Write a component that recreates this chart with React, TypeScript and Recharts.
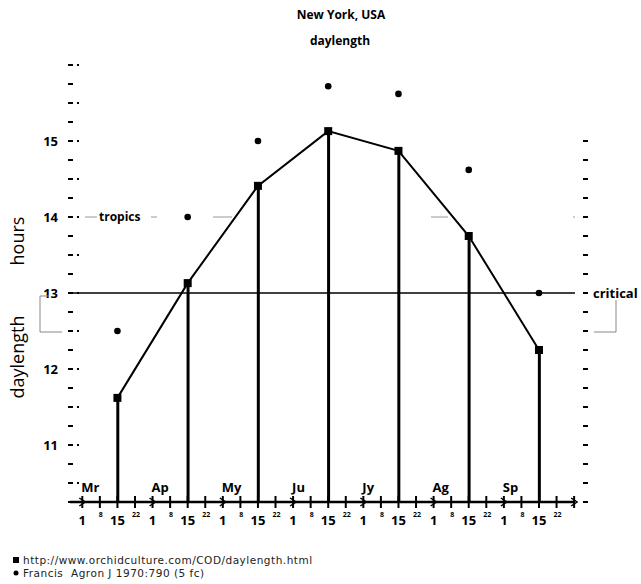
import React from "react";
import { ComposedChart, Line, Bar, XAxis, YAxis, ReferenceLine } from "recharts";

// months shown above the axis, one per "1" tick
const months = ["Mr", "Ap", "My", "Ju", "Jy", "Ag", "Sp"];
// day labels repeated every month
const dayLabels = ["1", "8", "15", "22"];
// quarter-month position of the 15th of each month (0 = Mar 1)
const midMonthPos = [2, 6, 10, 14, 18, 22, 26];
// orchidculture.com daylength (hours), 15th of each month
const orchidHours = [11.62, 13.13, 14.41, 15.13, 14.87, 13.75, 12.25];
// Francis, Agron J 1970 daylength (hours)
const francisHours = [12.5, 14.0, 15.0, 15.72, 15.62, 14.62, 13.0];

const xTicks = Array.from({ length: 29 }, (_, i) => i);
const leftTicks = Array.from({ length: 24 }, (_, i) => 10.25 + i * 0.25);
const rightTicks = Array.from({ length: 20 }, (_, i) => 10.25 + i * 0.25);

const data = midMonthPos.map((pos, i) => ({
  pos,
  orchid: orchidHours[i],
  francis: francisHours[i],
}));

const FONT = "'Open Sans', sans-serif";

function LeftTick(props: any) {
  const { x, y, payload } = props;
  const v = payload.value as number;
  const isInt = Math.abs(v - Math.round(v)) < 1e-6;
  const isHalf = Math.abs(v * 2 - Math.round(v * 2)) < 1e-6;
  return (
    <g>
      <line x1={x - 2} x2={x + 3} y1={y} y2={y} stroke="#000" strokeWidth={2} />
      {isHalf && <rect x={x + 7} y={y - 1} width={2} height={2} fill="#000" />}
      {isInt && v >= 11 && v <= 15 && (
        <text x={x - 12} y={y + 5} textAnchor="end" fontFamily={FONT} fontWeight="bold" fontSize={13} fill="#000">
          {v}
        </text>
      )}
    </g>
  );
}

function RightTick(props: any) {
  const { x, y } = props;
  return <line x1={x + 8} x2={x + 13} y1={y} y2={y} stroke="#000" strokeWidth={2} />;
}

function BottomTick(props: any) {
  const { x, y, payload } = props;
  const i = payload.value as number;
  const k = i % 4;
  const big = k === 0 || k === 2;
  return (
    <g>
      <line x1={x} x2={x} y1={y - 6} y2={y + 6} stroke="#000" strokeWidth={2} />
      {k === 0 && (
        <path d={`M${x - 3},${y - 4} L${x + 3},${y} L${x - 3},${y + 4}`} fill="none" stroke="#000" strokeWidth={1.5} />
      )}
      {i < 28 &&
        (big ? (
          <text x={x} y={y + 23} textAnchor="middle" fontFamily={FONT} fontWeight="bold" fontSize={13} fill="#000">
            {dayLabels[k]}
          </text>
        ) : (
          <text x={x + 1} y={y + 15} textAnchor="middle" fontFamily={FONT} fontWeight="bold" fontSize={7} fill="#000">
            {dayLabels[k]}
          </text>
        ))}
      {k === 0 && i < 28 && (
        <text x={x - 1} y={y - 10} textAnchor="start" fontFamily={FONT} fontWeight="bold" fontSize={13} fill="#000">
          {months[i / 4]}
        </text>
      )}
    </g>
  );
}

function SquareDot(props: any) {
  const { cx, cy } = props;
  if (cx == null || cy == null) return null;
  return <rect x={cx - 4} y={cy - 4} width={8} height={8} fill="#000" />;
}

function RoundDot(props: any) {
  const { cx, cy } = props;
  if (cx == null || cy == null) return null;
  return <circle cx={cx} cy={cy} r={3.3} fill="#000" />;
}

const criticalLabel = (props: any) => {
  const vb = props.viewBox;
  return (
    <text x={vb.x + vb.width + 18} y={vb.y + 5} fontFamily={FONT} fontWeight="bold" fontSize={13} fill="#000">
      critical
    </text>
  );
};

const tropicsLabel = (props: any) => {
  const vb = props.viewBox;
  return (
    <text x={vb.x + 29} y={vb.y + 4} fontFamily={FONT} fontWeight="bold" fontSize={12} fill="#000">
      tropics
    </text>
  );
};

export default function App() {
  return (
    <div style={{ position: "absolute", left: 0, top: 0, width: 641, height: 584, background: "#fff" }}>
      <ComposedChart width={641} height={584} data={data} margin={{ top: 65, right: 36, bottom: 52, left: 0 }}>
        <XAxis
          dataKey="pos"
          type="number"
          domain={[-0.7, 28.05]}
          ticks={xTicks}
          interval={0}
          tick={<BottomTick />}
          tickLine={false}
          tickSize={0}
          tickMargin={0}
          height={30}
          axisLine={{ stroke: "#000", strokeWidth: 2.5 }}
          allowDataOverflow
        />
        <YAxis
          yAxisId="l"
          domain={[10.25, 16]}
          ticks={leftTicks}
          interval={0}
          tick={<LeftTick />}
          tickLine={false}
          tickSize={0}
          tickMargin={0}
          axisLine={false}
          width={70}
          allowDataOverflow
        />
        <YAxis
          yAxisId="r"
          orientation="right"
          domain={[10.25, 16]}
          ticks={rightTicks}
          interval={0}
          tick={<RightTick />}
          tickLine={false}
          tickSize={0}
          tickMargin={0}
          axisLine={false}
          width={30}
          allowDataOverflow
        />
        <ReferenceLine
          yAxisId="l"
          y={14}
          stroke="#999"
          strokeWidth={1.2}
          strokeDasharray="0 15 12 54 6 56 19 199 17 125 4"
          label={tropicsLabel}
        />
        <ReferenceLine yAxisId="l" y={13} stroke="#000" strokeWidth={1.5} label={criticalLabel} />
        <Bar yAxisId="l" dataKey="orchid" barSize={3} fill="#000" isAnimationActive={false} />
        <Line
          yAxisId="l"
          dataKey="orchid"
          type="linear"
          stroke="#000"
          strokeWidth={2}
          dot={<SquareDot />}
          activeDot={false}
          isAnimationActive={false}
        />
        <Line
          yAxisId="l"
          dataKey="francis"
          stroke="none"
          dot={<RoundDot />}
          activeDot={false}
          isAnimationActive={false}
        />
      </ComposedChart>
      <svg width={641} height={584} style={{ position: "absolute", left: 0, top: 0, pointerEvents: "none" }}>
        <text x={341} y={19} textAnchor="middle" fontFamily={FONT} fontWeight="bold" fontSize={12} fill="#000">
          New York, USA
        </text>
        <text x={340} y={45} textAnchor="middle" fontFamily={FONT} fontWeight="bold" fontSize={12} fill="#000">
          daylength
        </text>
        <text x={17} y={241} transform="rotate(-90 17 241)" textAnchor="middle" dominantBaseline="central" fontFamily={FONT} fontSize={18} fill="#000">
          hours
        </text>
        <text x={17} y={357} transform="rotate(-90 17 357)" textAnchor="middle" dominantBaseline="central" fontFamily={FONT} fontSize={18} fill="#000">
          daylength
        </text>
        <polyline points="49,296 40,296 40,332 62,332" fill="none" stroke="#888" strokeWidth={1} />
        <polyline points="616,300 616,332 594,332" fill="none" stroke="#888" strokeWidth={1} />
        <rect x={13} y={557} width={6} height={6} fill="#000" />
        <text x={23} y={564} fontFamily="'DejaVu Sans', sans-serif" fontSize={10.5} letterSpacing={0.5} fill="#222">
          http://www.orchidculture.com/COD/daylength.html
        </text>
        <circle cx={16} cy={573} r={2.5} fill="#000" />
        <text x={23} y={577} fontFamily="'DejaVu Sans', sans-serif" fontSize={10.5} letterSpacing={0.5} fill="#222" style={{ whiteSpace: "pre" }}>
          {"Francis  Agron J 1970:790 (5 fc)"}
        </text>
      </svg>
    </div>
  );
}
